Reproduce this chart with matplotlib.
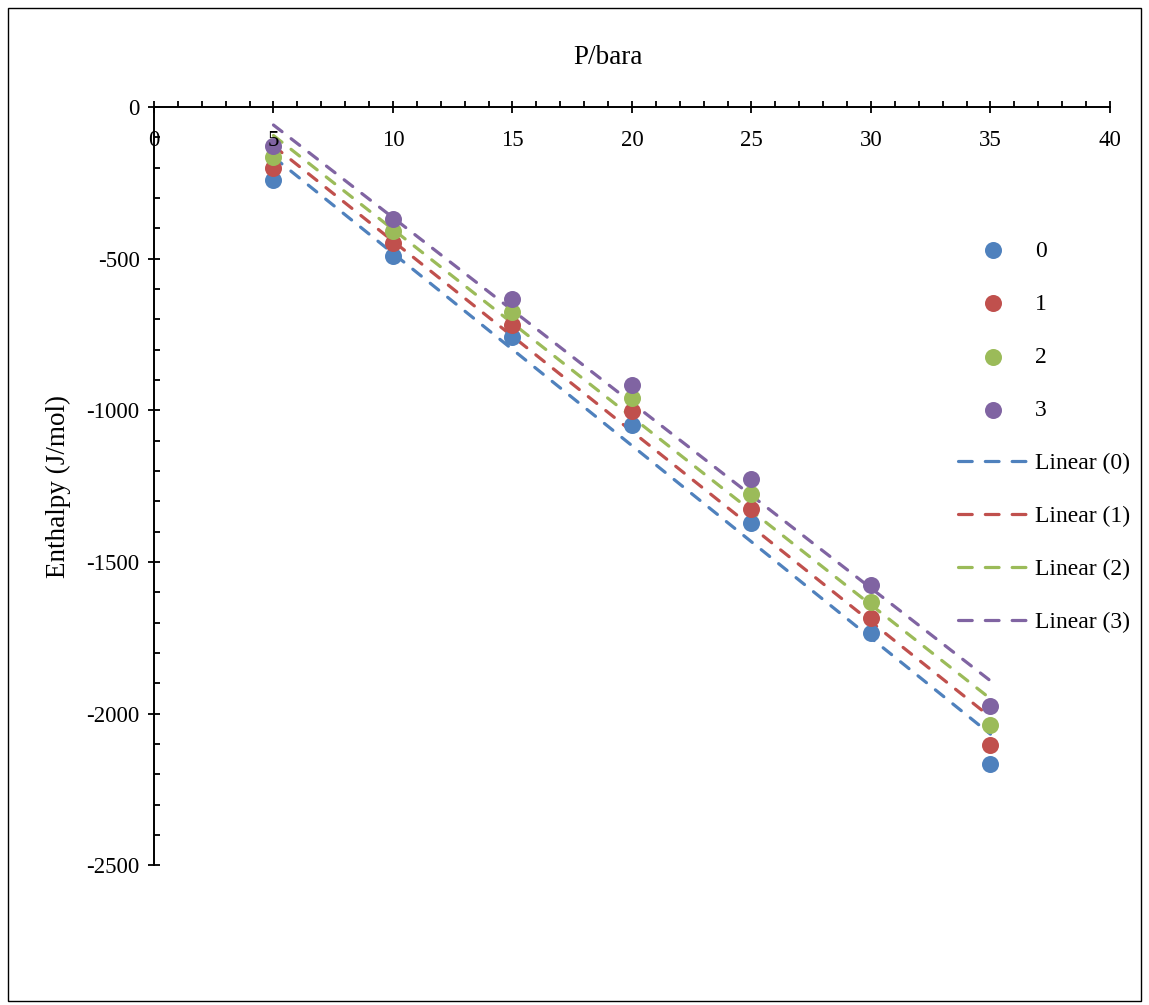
import matplotlib.pyplot as plt
import numpy as np
from matplotlib.ticker import MultipleLocator
from matplotlib.patches import Rectangle
from matplotlib.lines import Line2D

plt.rcParams['font.family'] = ['Liberation Serif', 'DejaVu Serif']
plt.rcParams['axes.unicode_minus'] = False

# pressure (bara) and enthalpy (J/mol) for the four series
pressure = [5, 10, 15, 20, 25, 30, 35]
series_names = ['0', '1', '2', '3']
h0 = [-241, -491, -759, -1049, -1372, -1735, -2167]
h1 = [-201, -449, -719, -1003, -1326, -1685, -2104]
h2 = [-165, -409, -676, -960, -1276, -1632, -2038]
h3 = [-129, -369, -633, -917, -1227, -1577, -1976]
colors = ['#4F81BD', '#C0504D', '#9BBB59', '#8064A2']

fig = plt.figure(figsize=(11.49, 10.05), dpi=100)
ax = fig.add_axes([0.134, 0.139, 0.832, 0.7545])

x = np.array(pressure)
point_handles = []
line_handles = []
for name, h, c in zip(series_names, [h0, h1, h2, h3], colors):
    sc = ax.scatter(x, h, s=150, color=c, zorder=3, label=name, linewidths=0)
    point_handles.append(sc)
    # linear trendline
    k, b = np.polyfit(x, h, 1)
    xs = np.array([x.min(), x.max()])
    ax.plot(xs, k * xs + b, color=c, lw=2.3, dashes=(3.4, 3.6),
            dash_capstyle='round', zorder=2)
    # legend entry with the longer Excel legend dashes
    line_handles.append(Line2D([], [], color=c, lw=2.3, dashes=(4.3, 4.1),
                               dash_capstyle='round', label='Linear (%s)' % name))

ax.set_xlim(0, 40)
ax.set_ylim(-2500, 0)

# Excel-like axes: x axis at top (y = 0), y axis at x = 0
for s in ['right', 'bottom']:
    ax.spines[s].set_visible(False)
ax.spines['top'].set_linewidth(1.4)
ax.spines['left'].set_linewidth(1.4)

ax.xaxis.set_major_locator(MultipleLocator(5))
ax.xaxis.set_minor_locator(MultipleLocator(1))
ax.yaxis.set_major_locator(MultipleLocator(500))
ax.yaxis.set_minor_locator(MultipleLocator(100))

ax.tick_params(axis='x', which='major', top=True, bottom=False, labeltop=False,
               labelbottom=False, direction='inout', length=8.5, width=1.3)
ax.tick_params(axis='x', which='minor', top=True, bottom=False,
               direction='out', length=4, width=1.3)
ax.tick_params(axis='y', which='major', direction='inout', length=8.5, width=1.3,
               labelsize=16.5, pad=6)
ax.tick_params(axis='y', which='minor', direction='in', length=4, width=1.3)

# x tick labels drawn just under the top axis line
for v in range(0, 45, 5):
    ax.text(v, -77, str(v), ha='center', va='top', fontsize=16.5)

fig.text(608 / 1149, 1 - 57 / 1005, 'P/bara', ha='center', va='center', fontsize=19.5)
ax.set_ylabel('Enthalpy (J/mol)', fontsize=19.5)
ax.yaxis.set_label_coords(-0.1004, 0.5)
ax.yaxis.label.set_va('center')

leg = ax.legend(handles=point_handles + line_handles, loc='upper left',
                bbox_to_anchor=(0.841, 0.8245), frameon=False, fontsize=17,
                labelspacing=1.335, handlelength=2.97, handletextpad=0.3,
                borderpad=0, borderaxespad=0, scatterpoints=1)

# chart area border
fig.patches.append(Rectangle((0.007, 0.004), 0.986, 0.988, transform=fig.transFigure,
                             fill=False, edgecolor='black', lw=1.0))

fig.savefig('out.png', dpi=100)
